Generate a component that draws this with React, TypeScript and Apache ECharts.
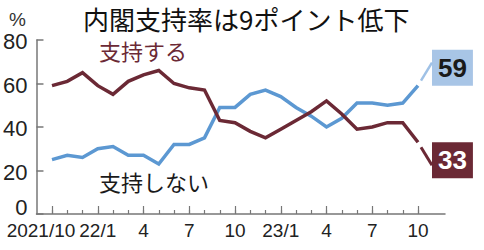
import React, { useEffect, useRef } from "react";
import * as echarts from "echarts";

const categories = [
  "2021/10", "11", "12", "22/1", "2", "3", "4", "5", "6", "7", "8", "9",
  "10", "11", "12", "23/1", "2", "3", "4", "5", "6", "7", "8", "9", "10",
];
const supportValues = [
  59, 61, 65, 59, 55, 61, 64, 66, 60, 58, 57, 43,
  42, 38, 35, 39, 43, 47, 52, 46, 39, 40, 42, 42, 33,
];
const notSupportValues = [
  25, 27, 26, 30, 31, 27, 27, 23, 32, 32, 35, 49,
  49, 55, 57, 54, 49, 45, 40, 44, 51, 51, 50, 51, 59,
];
const yTicks = [0, 20, 40, 60, 80];
const titleText = "内閣支持率は9ポイント低下";
const supportName = "支持する";
const notSupportName = "支持しない";

const MAROON = "#6b2935";
const BLUE = "#5c98d2";
const BLUE_BOX = "#a8c5e6";
const AXIS = "#777777";
const NUM_FONT = "'Liberation Sans Narrow', 'Liberation Sans', Arial, sans-serif";
const JP_FONT = "'Noto Sans CJK JP', 'Noto Sans', sans-serif";

export default function App() {
  const ref = useRef<HTMLDivElement>(null);

  useEffect(() => {
    document.body.style.margin = "0";
    if (!ref.current) return;
    const chart = echarts.init(ref.current, undefined, { renderer: "svg" });
    const labelEvery = (i: number) => i % 3 === 0;
    const option: any = {
      animation: false,
      backgroundColor: "#ffffff",
      grid: [
        { left: 52, right: 66, top: 40, bottom: 36 },
        { left: 36, right: 39, top: 40, bottom: 36 },
      ],
      xAxis: [
        {
          type: "category",
          gridIndex: 0,
          data: categories,
          boundaryGap: false,
          axisLine: { show: false },
          axisTick: { show: true, inside: true, length: 4, interval: 0, lineStyle: { color: AXIS, width: 1.2 } },
          axisLabel: { show: false },
          splitLine: { show: false },
        },
        {
          type: "category",
          gridIndex: 0,
          data: categories,
          boundaryGap: false,
          position: "bottom",
          axisLine: { show: false },
          axisTick: { show: true, inside: true, length: 8, interval: labelEvery, lineStyle: { color: AXIS, width: 1.2 } },
          axisLabel: {
            show: true,
            interval: labelEvery,
            showMinLabel: true,
            showMaxLabel: true,
            hideOverlap: false,
            margin: 7,
            fontSize: 19,
            fontFamily: NUM_FONT,
            color: "#222222",
            formatter: (v: string, i: number) => (i === 0 ? "{a|" + v + "}" : v),
            rich: { a: { fontSize: 19, fontFamily: NUM_FONT, color: "#222222", padding: [0, 22, 0, 0] } },
          },
          splitLine: { show: false },
        },
        {
          type: "value",
          gridIndex: 1,
          min: 0,
          max: 1,
          axisLine: { show: true, lineStyle: { color: AXIS, width: 1.5 } },
          axisTick: { show: false },
          axisLabel: { show: false },
          splitLine: { show: false },
        },
      ],
      yAxis: [
        {
          type: "value",
          gridIndex: 0,
          min: yTicks[0],
          max: yTicks[yTicks.length - 1],
          interval: 20,
          show: false,
          splitLine: { show: false },
        },
        {
          type: "value",
          gridIndex: 1,
          min: yTicks[0],
          max: yTicks[yTicks.length - 1],
          interval: 20,
          axisLine: { show: true, lineStyle: { color: AXIS, width: 1.5 } },
          axisTick: { show: true, inside: true, length: 7, lineStyle: { color: AXIS, width: 1.5 } },
          axisLabel: {
            margin: 9,
            fontSize: 22,
            fontFamily: NUM_FONT,
            color: "#222222",
            formatter: (v: number) => (v === 0 ? "{z|0}" : "{n|" + v + "}"),
            rich: {
              z: { fontSize: 22, fontFamily: NUM_FONT, color: "#222222", padding: [0, 0, 14, 0] },
              n: { fontSize: 22, fontFamily: NUM_FONT, color: "#222222", padding: [3, 0, 0, 0] },
            },
          },
          splitLine: { show: false },
        },
      ],
      series: [
        {
          name: notSupportName,
          type: "line",
          xAxisIndex: 0,
          yAxisIndex: 0,
          data: notSupportValues,
          showSymbol: false,
          lineStyle: { color: BLUE, width: 3.5, join: "miter" },
          itemStyle: { color: BLUE },
          endLabel: {
            show: true,
            formatter: (p: any) => String(p.value),
            distance: 14,
            offset: [0, -18],
            backgroundColor: BLUE_BOX,
            padding: [5, 6, 5, 6],
            fontSize: 26,
            fontWeight: "bold",
            fontFamily: "'Liberation Sans', Arial, sans-serif",
            color: "#1a1a1a",
          },
          z: 3,
        },
        {
          name: supportName,
          type: "line",
          xAxisIndex: 0,
          yAxisIndex: 0,
          data: supportValues,
          showSymbol: false,
          lineStyle: { color: MAROON, width: 3.5, join: "miter" },
          itemStyle: { color: MAROON },
          endLabel: {
            show: true,
            formatter: (p: any) => String(p.value),
            distance: 14,
            offset: [0, 18],
            backgroundColor: MAROON,
            padding: [5, 6, 5, 6],
            fontSize: 26,
            fontWeight: "bold",
            fontFamily: "'Liberation Sans', Arial, sans-serif",
            color: "#ffffff",
          },
          z: 4,
        },
      ],
      graphic: [
        {
          type: "text",
          id: "title",
          left: 83,
          top: 5,
          style: { text: titleText, fontSize: 26, fontFamily: JP_FONT, fill: "#111111" },
        },
        {
          type: "text",
          id: "pct",
          left: 9,
          top: 10,
          style: { text: "%", fontSize: 19, fontFamily: "'Liberation Sans', Arial, sans-serif", fill: "#333333" },
        },
        {
          type: "text",
          id: "lblSupport",
          left: 99,
          top: 39,
          style: { text: supportName, fontSize: 22, fontFamily: JP_FONT, fill: MAROON },
        },
        {
          type: "text",
          id: "lblNot",
          left: 99,
          top: 170,
          style: { text: notSupportName, fontSize: 22, fontFamily: JP_FONT, fill: "#1a1a1a" },
        },
      ],
    };
    chart.setOption(option);

    const last = categories.length - 1;
    const pb = chart.convertToPixel({ xAxisIndex: 0, yAxisIndex: 0 }, [last, notSupportValues[last]]) as number[];
    const pm = chart.convertToPixel({ xAxisIndex: 0, yAxisIndex: 0 }, [last, supportValues[last]]) as number[];
    if (pb && pm) {
      chart.setOption({
        graphic: [
          {
            type: "line",
            id: "leaderBlue",
            shape: { x1: pb[0] + 3, y1: pb[1] - 5, x2: pb[0] + 14, y2: pb[1] - 23 },
            style: { stroke: "#9fc1e6", lineWidth: 2.5 },
            z: 5,
          },
          {
            type: "line",
            id: "leaderMaroon",
            shape: { x1: pm[0] + 3, y1: pm[1] + 5, x2: pm[0] + 14, y2: pm[1] + 23 },
            style: { stroke: MAROON, lineWidth: 3 },
            z: 5,
          },
        ],
      });
    }

    return () => chart.dispose();
  }, []);

  return <div ref={ref} style={{ width: 484, height: 250 }} />;
}
